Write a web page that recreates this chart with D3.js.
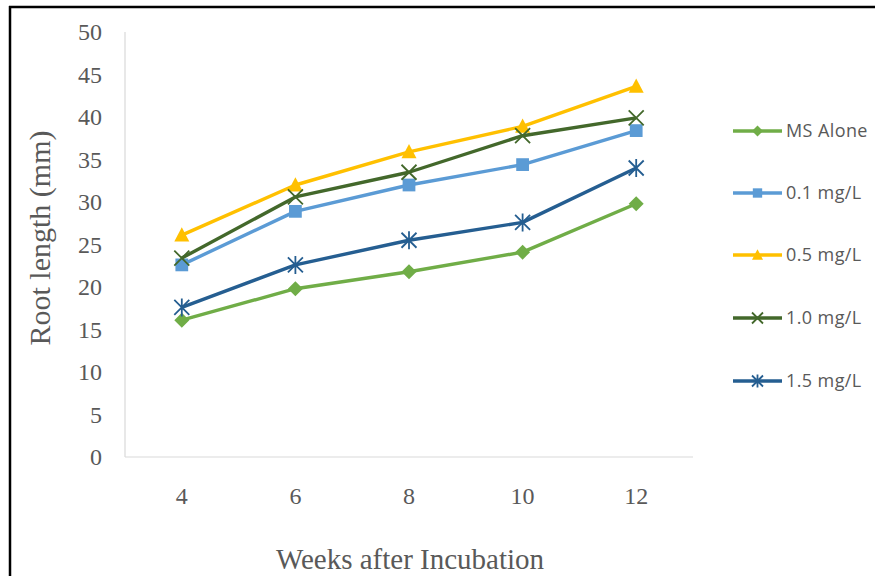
<!DOCTYPE html>
<html>
<head>
<meta charset="utf-8">
<script src="https://cdn.jsdelivr.net/npm/d3@7"></script>
<style>
  html, body { margin: 0; padding: 0; background: #fff; }
  svg { display: block; }
</style>
</head>
<body>
<svg id="chart" width="875" height="576"></svg>
<script>
const weeks = ["4", "6", "8", "10", "12"];
const seriesNames = ["MS Alone", "0.1 mg/L", "0.5 mg/L", "1.0 mg/L", "1.5 mg/L"];
const msAlone = [16.1, 19.8, 21.8, 24.1, 29.8];
const mg01 = [22.6, 28.9, 32.0, 34.4, 38.4];
const mg05 = [26.1, 32.0, 35.9, 38.9, 43.6];
const mg10 = [23.4, 30.6, 33.5, 37.8, 39.9];
const mg15 = [17.6, 22.6, 25.5, 27.6, 34.0];
const yTicks = [0, 5, 10, 15, 20, 25, 30, 35, 40, 45, 50];

const colors = ["#70AD47", "#5B9BD5", "#FFC000", "#43682B", "#255E91"];
const markers = ["diamond", "square", "triangle", "x", "star"];
const allValues = [msAlone, mg01, mg05, mg10, mg15];

const svg = d3.select("#chart");

// frame
svg.append("line").attr("x1", 10).attr("x2", 10).attr("y1", 6).attr("y2", 576)
  .attr("stroke", "#000").attr("stroke-width", 2.5);
svg.append("line").attr("x1", 9).attr("x2", 875).attr("y1", 7).attr("y2", 7)
  .attr("stroke", "#000").attr("stroke-width", 2.5);

const plotLeft = 125, plotRight = 693, plotTop = 32, plotBottom = 457;
const x = d3.scaleBand().domain(weeks).range([plotLeft, plotRight]);
const y = d3.scaleLinear().domain([0, 50]).range([plotBottom, plotTop]);

// axes lines
svg.append("line").attr("x1", plotLeft).attr("x2", plotLeft).attr("y1", y(50)).attr("y2", plotBottom)
  .attr("stroke", "#D9D9D9").attr("stroke-width", 1.2);
svg.append("line").attr("x1", plotLeft).attr("x2", plotRight).attr("y1", plotBottom).attr("y2", plotBottom)
  .attr("stroke", "#D9D9D9").attr("stroke-width", 1.2);

// y ticks
const yAxis = d3.axisLeft(y).tickValues(yTicks).tickSize(0).tickPadding(23);
const gy = svg.append("g").attr("transform", `translate(${plotLeft},0)`).call(yAxis);
gy.select(".domain").remove();
gy.selectAll("text").attr("font-family", "Liberation Serif").attr("font-size", 24)
  .attr("fill", "#595959");

// x ticks
const xAxis = d3.axisBottom(x).tickSize(0).tickPadding(30);
const gx = svg.append("g").attr("transform", `translate(0,${plotBottom})`).call(xAxis);
gx.select(".domain").remove();
gx.selectAll("text").attr("font-family", "Liberation Serif").attr("font-size", 24)
  .attr("fill", "#595959");

// axis titles
svg.append("text").attr("transform", "translate(50,238) rotate(-90)")
  .attr("text-anchor", "middle").attr("font-family", "Liberation Serif")
  .attr("font-size", 30).attr("fill", "#595959").text("Root length (mm)");
svg.append("text").attr("x", 410).attr("y", 569)
  .attr("text-anchor", "middle").attr("font-family", "Liberation Serif")
  .attr("font-size", 29).attr("fill", "#595959").text("Weeks after Incubation");

function drawMarker(g, type, cx, cy, color, s) {
  if (type === "diamond") {
    g.append("path").attr("d", `M${cx},${cy - s}L${cx + s},${cy}L${cx},${cy + s}L${cx - s},${cy}Z`)
      .attr("fill", color);
  } else if (type === "square") {
    g.append("rect").attr("x", cx - s * 0.85).attr("y", cy - s * 0.85)
      .attr("width", s * 1.7).attr("height", s * 1.7).attr("fill", color);
  } else if (type === "triangle") {
    g.append("path").attr("d", `M${cx},${cy - s * 1.05}L${cx + s},${cy + s * 0.85}L${cx - s},${cy + s * 0.85}Z`)
      .attr("fill", color);
  } else if (type === "x") {
    g.append("path").attr("d", `M${cx - s},${cy - s}L${cx + s},${cy + s}M${cx - s},${cy + s}L${cx + s},${cy - s}`)
      .attr("stroke", color).attr("stroke-width", 1.8).attr("fill", "none");
  } else if (type === "star") {
    g.append("path").attr("d", `M${cx - s},${cy - s}L${cx + s},${cy + s}M${cx - s},${cy + s}L${cx + s},${cy - s}M${cx},${cy - s * 1.2}L${cx},${cy + s * 1.2}`)
      .attr("stroke", color).attr("stroke-width", 1.8).attr("fill", "none");
  }
}

const line = d3.line().x((d, i) => x(weeks[i]) + x.bandwidth() / 2).y(d => y(d));

allValues.forEach((vals, si) => {
  const g = svg.append("g");
  g.append("path").datum(vals).attr("d", line).attr("fill", "none")
    .attr("stroke", colors[si]).attr("stroke-width", 3.4).attr("stroke-linejoin", "round");
  vals.forEach((v, i) => {
    drawMarker(g, markers[si], x(weeks[i]) + x.bandwidth() / 2, y(v), colors[si], 7.5);
  });
});

// legend
const legendY = [131, 193, 255, 318, 381];
seriesNames.forEach((name, si) => {
  const g = svg.append("g");
  const ly = legendY[si];
  g.append("line").attr("x1", 733).attr("x2", 782).attr("y1", ly).attr("y2", ly)
    .attr("stroke", colors[si]).attr("stroke-width", 3.4);
  drawMarker(g, markers[si], 757.5, ly, colors[si], 5.5);
  g.append("text").attr("x", 786).attr("y", ly).attr("dy", "0.35em")
    .attr("font-family", "Open Sans").attr("font-size", 18).attr("letter-spacing", 0.4)
    .attr("fill", "#595959").text(name);
});
</script>
</body>
</html>
